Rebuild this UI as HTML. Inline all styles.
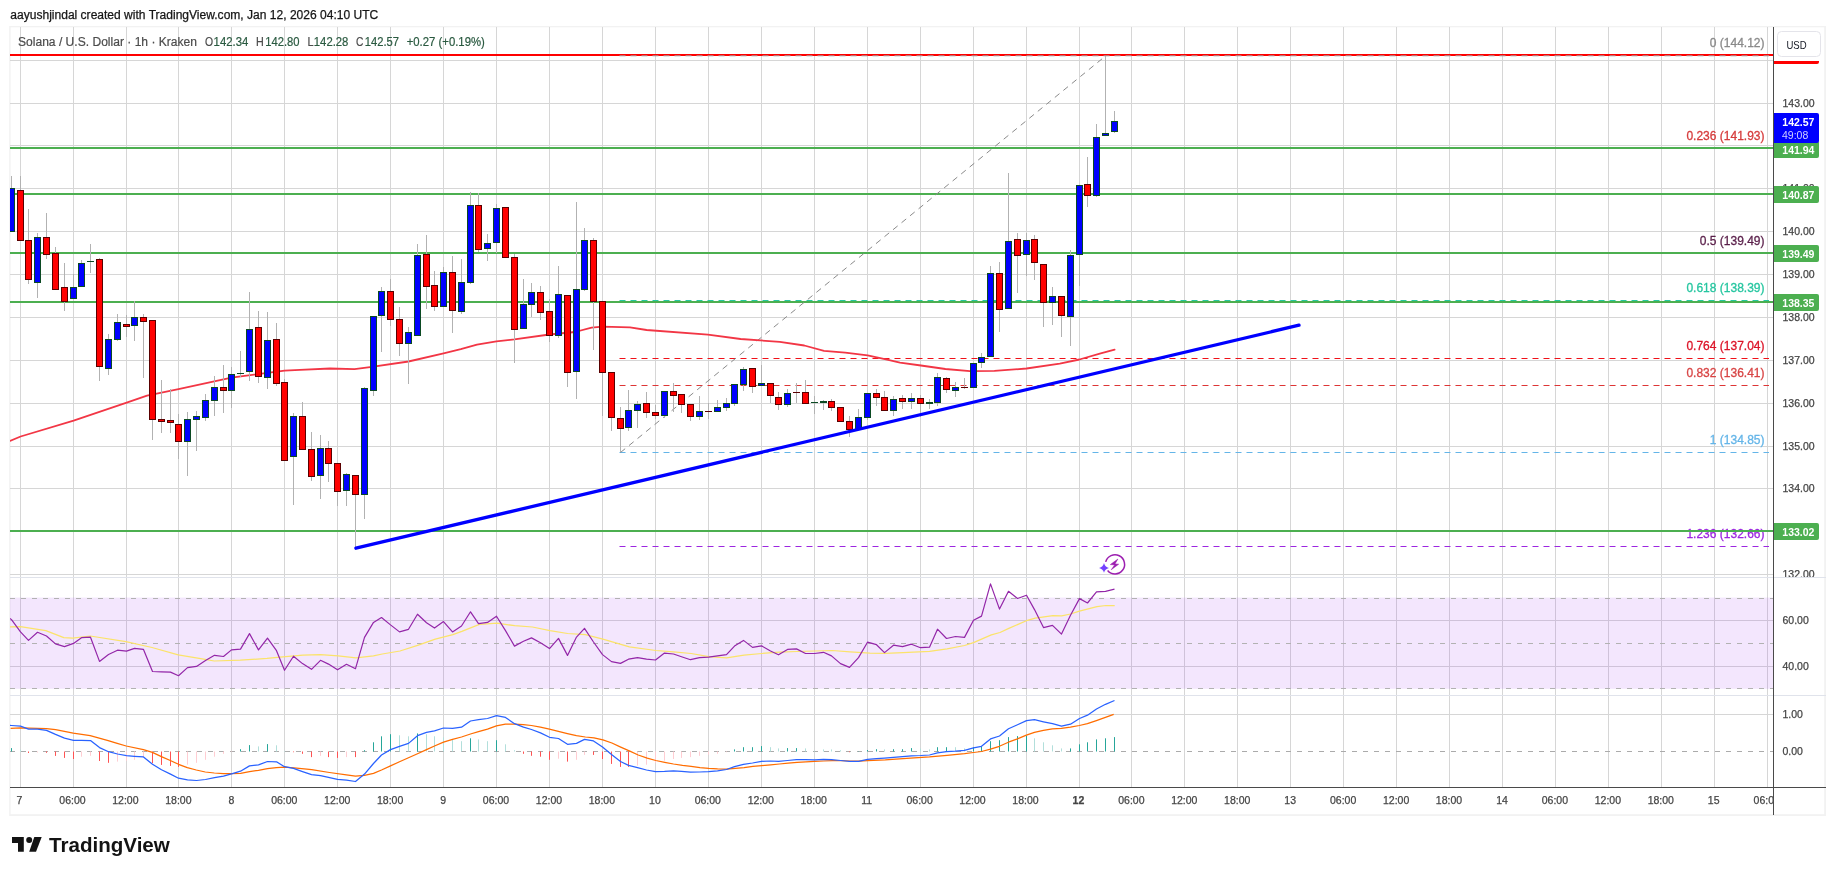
<!DOCTYPE html><html><head><meta charset="utf-8"><title>chart</title><style>html,body{margin:0;padding:0;background:#fff}body{width:1835px;height:875px;overflow:hidden}</style></head><body><svg width="1835" height="875" viewBox="0 0 1835 875" style="display:block;will-change:transform">
<rect width="1835" height="875" fill="#fff"/>
<rect x="9.2" y="26" width="1816.8" height="790" fill="#f2f2f2"/>
<rect x="10.6" y="27.3" width="1813.6" height="786.9" fill="#fff"/>
<defs><clipPath id="main"><rect x="10" y="27" width="1763" height="550"/></clipPath><clipPath id="rsi"><rect x="10" y="578" width="1763" height="117"/></clipPath><clipPath id="macd"><rect x="10" y="696" width="1763" height="91"/></clipPath></defs>
<g shape-rendering="crispEdges" fill="#d6d6d6"><rect x="20" y="27" width="1" height="760"/><rect x="73" y="27" width="1" height="760"/><rect x="126" y="27" width="1" height="760"/><rect x="178" y="27" width="1" height="760"/><rect x="231" y="27" width="1" height="760"/><rect x="284" y="27" width="1" height="760"/><rect x="337" y="27" width="1" height="760"/><rect x="390" y="27" width="1" height="760"/><rect x="443" y="27" width="1" height="760"/><rect x="496" y="27" width="1" height="760"/><rect x="549" y="27" width="1" height="760"/><rect x="602" y="27" width="1" height="760"/><rect x="655" y="27" width="1" height="760"/><rect x="708" y="27" width="1" height="760"/><rect x="761" y="27" width="1" height="760"/><rect x="814" y="27" width="1" height="760"/><rect x="867" y="27" width="1" height="760"/><rect x="920" y="27" width="1" height="760"/><rect x="973" y="27" width="1" height="760"/><rect x="1026" y="27" width="1" height="760"/><rect x="1079" y="27" width="1" height="760"/><rect x="1131" y="27" width="1" height="760"/><rect x="1184" y="27" width="1" height="760"/><rect x="1237" y="27" width="1" height="760"/><rect x="1290" y="27" width="1" height="760"/><rect x="1343" y="27" width="1" height="760"/><rect x="1396" y="27" width="1" height="760"/><rect x="1449" y="27" width="1" height="760"/><rect x="1502" y="27" width="1" height="760"/><rect x="1555" y="27" width="1" height="760"/><rect x="1608" y="27" width="1" height="760"/><rect x="1661" y="27" width="1" height="760"/><rect x="1714" y="27" width="1" height="760"/><rect x="1767" y="27" width="1" height="760"/><rect x="10" y="60" width="1763" height="1"/><rect x="10" y="103" width="1763" height="1"/><rect x="10" y="145" width="1763" height="1"/><rect x="10" y="188" width="1763" height="1"/><rect x="10" y="231" width="1763" height="1"/><rect x="10" y="274" width="1763" height="1"/><rect x="10" y="317" width="1763" height="1"/><rect x="10" y="360" width="1763" height="1"/><rect x="10" y="403" width="1763" height="1"/><rect x="10" y="446" width="1763" height="1"/><rect x="10" y="488" width="1763" height="1"/><rect x="10" y="531" width="1763" height="1"/><rect x="10" y="574" width="1763" height="1"/><rect x="10" y="620" width="1763" height="1"/><rect x="10" y="666" width="1763" height="1"/><rect x="10" y="714" width="1763" height="1"/></g>
<rect x="10" y="597.6" width="1763" height="91.2" fill="#9a35ee" fill-opacity="0.12"/>
<g shape-rendering="crispEdges" fill="#e0e3eb"><rect x="10" y="577" width="1816" height="1"/><rect x="10" y="695" width="1816" height="1"/></g>
<g>
<line x1="10" y1="598.5" x2="1773" y2="598.5" stroke="#b2b2b2" stroke-width="1" stroke-dasharray="5 6" stroke-dashoffset="0"/>
<line x1="10" y1="643.5" x2="1773" y2="643.5" stroke="#b2b2b2" stroke-width="1" stroke-dasharray="5 6" stroke-dashoffset="0"/>
<line x1="10" y1="688.5" x2="1773" y2="688.5" stroke="#b2b2b2" stroke-width="1" stroke-dasharray="5 6" stroke-dashoffset="0"/>
<line x1="10" y1="751.5" x2="1773" y2="751.5" stroke="#ababab" stroke-width="1" stroke-dasharray="5 6" stroke-dashoffset="0"/>
</g>
<g clip-path="url(#main)">
<g>
<line x1="619.5" y1="546.5" x2="1769" y2="546.5" stroke="#9c27e0" stroke-width="1" stroke-dasharray="6 5" stroke-dashoffset="0"/>
<line x1="619.5" y1="452.5" x2="1769" y2="452.5" stroke="#64b5e8" stroke-width="1" stroke-dasharray="6 5" stroke-dashoffset="0"/>
<line x1="619.5" y1="385.5" x2="1769" y2="385.5" stroke="#dd3535" stroke-width="1" stroke-dasharray="6 5" stroke-dashoffset="0"/>
<line x1="619.5" y1="358.5" x2="1769" y2="358.5" stroke="#f01018" stroke-width="1" stroke-dasharray="6 5" stroke-dashoffset="0"/>
</g>
<text x="1764.5" y="47.3" font-size="12" fill="#8a8a8a" text-anchor="end" font-weight="normal" font-family="Liberation Sans, sans-serif" stroke="#8a8a8a" stroke-width="0.3">0 (144.12)</text>
<text x="1764.5" y="140" font-size="12" fill="#d63c3c" text-anchor="end" font-weight="normal" font-family="Liberation Sans, sans-serif" stroke="#d63c3c" stroke-width="0.3">0.236 (141.93)</text>
<text x="1764.5" y="245.3" font-size="12" fill="#5a1f4a" text-anchor="end" font-weight="normal" font-family="Liberation Sans, sans-serif" stroke="#5a1f4a" stroke-width="0.3">0.5 (139.49)</text>
<text x="1764.5" y="292.3" font-size="12" fill="#26c6a0" text-anchor="end" font-weight="normal" font-family="Liberation Sans, sans-serif" stroke="#26c6a0" stroke-width="0.3">0.618 (138.39)</text>
<text x="1764.5" y="350.3" font-size="12" fill="#dc1428" text-anchor="end" font-weight="normal" font-family="Liberation Sans, sans-serif" stroke="#dc1428" stroke-width="0.3">0.764 (137.04)</text>
<text x="1764.5" y="377.3" font-size="12" fill="#d84545" text-anchor="end" font-weight="normal" font-family="Liberation Sans, sans-serif" stroke="#d84545" stroke-width="0.3">0.832 (136.41)</text>
<text x="1764.5" y="444.3" font-size="12" fill="#64b5e8" text-anchor="end" font-weight="normal" font-family="Liberation Sans, sans-serif" stroke="#64b5e8" stroke-width="0.3">1 (134.85)</text>
<text x="1764.5" y="538.3" font-size="12" fill="#9c27e0" text-anchor="end" font-weight="normal" font-family="Liberation Sans, sans-serif" stroke="#9c27e0" stroke-width="0.3">1.236 (132.66)</text>
<g shape-rendering="crispEdges" fill="#4caf50">
<rect x="10" y="147" width="1763" height="2"/>
<rect x="10" y="193" width="1763" height="2"/>
<rect x="10" y="252" width="1763" height="2"/>
<rect x="10" y="301" width="1763" height="2"/>
<rect x="10" y="530" width="1763" height="2"/>
</g>
<line x1="619.5" y1="300.5" x2="1769" y2="300.5" stroke="#26c6a0" stroke-width="1" stroke-dasharray="6 5" stroke-dashoffset="0"/>
<rect x="10" y="54" width="1763" height="2" fill="#ff0000" shape-rendering="crispEdges"/>
<line x1="619.5" y1="55.8" x2="1769" y2="55.8" stroke="#a8a0a0" stroke-width="1" stroke-dasharray="6 5" stroke-dashoffset="0"/>
<line x1="620.5" y1="452.5" x2="1105.5" y2="56" stroke="#8a8a8a" stroke-width="1" stroke-dasharray="6 5"/>
<polyline points="10,440.9 20.6,436.5 73.6,420.6 126.7,402.7 147,395.6 178.5,389.1 231.5,377.7 284.6,370.6 300,369.8 330,368.5 354.5,369.2 370,367.2 408.5,361.5 443.6,353.3 460.8,349.2 477,344.7 496.4,341.4 514.4,339.4 549.4,334.5 575,332 591.6,327.7 602.5,326.7 630,327.3 646.6,330 707.9,334.6 740.6,339 779.8,341.8 804.3,345.5 824,350.8 845.2,352.6 867.6,355.3 886,359.4 900,362.7 920.9,365.5 945.4,369 969.9,371.2 994.4,370.9 1026.5,368.5 1059.8,363.6 1079.4,359.5 1100.7,353.4 1114.6,349.7" fill="none" stroke="#f23645" stroke-width="1.8" stroke-linejoin="round" stroke-linecap="round"/>
<g shape-rendering="crispEdges"><g fill="#b2b2b2"><rect x="11" y="176" width="1" height="56"/><rect x="20" y="176" width="1" height="65"/><rect x="28" y="209" width="1" height="75"/><rect x="37" y="233" width="1" height="65"/><rect x="46" y="213" width="1" height="46"/><rect x="55" y="247" width="1" height="43"/><rect x="64" y="263" width="1" height="48"/><rect x="73" y="274" width="1" height="25"/><rect x="81" y="260" width="1" height="27"/><rect x="90" y="244" width="1" height="29"/><rect x="99" y="258" width="1" height="123"/><rect x="108" y="334" width="1" height="41"/><rect x="117" y="314" width="1" height="27"/><rect x="126" y="315" width="1" height="22"/><rect x="134" y="301" width="1" height="40"/><rect x="143" y="314" width="1" height="64"/><rect x="152" y="320" width="1" height="120"/><rect x="161" y="380" width="1" height="53"/><rect x="170" y="389" width="1" height="44"/><rect x="178" y="414" width="1" height="45"/><rect x="187" y="412" width="1" height="64"/><rect x="196" y="411" width="1" height="40"/><rect x="205" y="394" width="1" height="27"/><rect x="214" y="376" width="1" height="40"/><rect x="223" y="365" width="1" height="48"/><rect x="231" y="367" width="1" height="41"/><rect x="240" y="351" width="1" height="26"/><rect x="249" y="292" width="1" height="89"/><rect x="258" y="311" width="1" height="72"/><rect x="267" y="312" width="1" height="77"/><rect x="276" y="323" width="1" height="63"/><rect x="284" y="379" width="1" height="82"/><rect x="293" y="413" width="1" height="92"/><rect x="302" y="402" width="1" height="48"/><rect x="311" y="432" width="1" height="49"/><rect x="320" y="435" width="1" height="64"/><rect x="328" y="441" width="1" height="41"/><rect x="337" y="463" width="1" height="43"/><rect x="346" y="473" width="1" height="33"/><rect x="355" y="475" width="1" height="73"/><rect x="364" y="387" width="1" height="132"/><rect x="373" y="316" width="1" height="80"/><rect x="381" y="287" width="1" height="65"/><rect x="390" y="279" width="1" height="47"/><rect x="399" y="307" width="1" height="49"/><rect x="408" y="327" width="1" height="57"/><rect x="417" y="244" width="1" height="92"/><rect x="426" y="235" width="1" height="74"/><rect x="434" y="271" width="1" height="40"/><rect x="443" y="267" width="1" height="40"/><rect x="452" y="256" width="1" height="77"/><rect x="461" y="259" width="1" height="55"/><rect x="470" y="192" width="1" height="92"/><rect x="478" y="193" width="1" height="59"/><rect x="487" y="234" width="1" height="27"/><rect x="496" y="204" width="1" height="49"/><rect x="505" y="207" width="1" height="51"/><rect x="514" y="254" width="1" height="109"/><rect x="523" y="279" width="1" height="50"/><rect x="531" y="283" width="1" height="34"/><rect x="540" y="286" width="1" height="34"/><rect x="549" y="299" width="1" height="43"/><rect x="558" y="266" width="1" height="72"/><rect x="567" y="295" width="1" height="92"/><rect x="576" y="202" width="1" height="197"/><rect x="584" y="228" width="1" height="63"/><rect x="593" y="238" width="1" height="112"/><rect x="602" y="301" width="1" height="115"/><rect x="611" y="372" width="1" height="59"/><rect x="620" y="407" width="1" height="45"/><rect x="628" y="390" width="1" height="41"/><rect x="637" y="401" width="1" height="27"/><rect x="646" y="392" width="1" height="26"/><rect x="655" y="405" width="1" height="14"/><rect x="664" y="391" width="1" height="27"/><rect x="673" y="383" width="1" height="29"/><rect x="681" y="394" width="1" height="19"/><rect x="690" y="404" width="1" height="17"/><rect x="699" y="396" width="1" height="24"/><rect x="708" y="403" width="1" height="16"/><rect x="717" y="400" width="1" height="12"/><rect x="726" y="398" width="1" height="13"/><rect x="734" y="384" width="1" height="22"/><rect x="743" y="367" width="1" height="24"/><rect x="752" y="368" width="1" height="25"/><rect x="761" y="365" width="1" height="21"/><rect x="770" y="383" width="1" height="20"/><rect x="778" y="392" width="1" height="18"/><rect x="787" y="389" width="1" height="18"/><rect x="796" y="383" width="1" height="20"/><rect x="805" y="380" width="1" height="24"/><rect x="814" y="396" width="1" height="18"/><rect x="823" y="400" width="1" height="10"/><rect x="831" y="399" width="1" height="12"/><rect x="840" y="407" width="1" height="15"/><rect x="849" y="416" width="1" height="21"/><rect x="858" y="409" width="1" height="21"/><rect x="867" y="393" width="1" height="27"/><rect x="876" y="389" width="1" height="17"/><rect x="884" y="391" width="1" height="20"/><rect x="893" y="396" width="1" height="20"/><rect x="902" y="395" width="1" height="14"/><rect x="911" y="393" width="1" height="16"/><rect x="920" y="395" width="1" height="22"/><rect x="929" y="399" width="1" height="10"/><rect x="937" y="373" width="1" height="33"/><rect x="946" y="377" width="1" height="16"/><rect x="955" y="382" width="1" height="15"/><rect x="964" y="378" width="1" height="11"/><rect x="973" y="363" width="1" height="25"/><rect x="981" y="353" width="1" height="15"/><rect x="990" y="266" width="1" height="91"/><rect x="999" y="262" width="1" height="70"/><rect x="1008" y="173" width="1" height="136"/><rect x="1017" y="233" width="1" height="60"/><rect x="1026" y="233" width="1" height="43"/><rect x="1034" y="235" width="1" height="45"/><rect x="1043" y="264" width="1" height="63"/><rect x="1052" y="287" width="1" height="38"/><rect x="1061" y="296" width="1" height="41"/><rect x="1070" y="250" width="1" height="96"/><rect x="1079" y="185" width="1" height="101"/><rect x="1087" y="157" width="1" height="50"/><rect x="1096" y="124" width="1" height="73"/><rect x="1105" y="56" width="1" height="80"/><rect x="1114" y="111" width="1" height="22"/></g><rect x="8" y="188" width="7" height="44" fill="#0b4a23"/><rect x="9" y="189" width="5" height="42" fill="#0000ff"/><rect x="17" y="190" width="7" height="51" fill="#5a0000"/><rect x="18" y="191" width="5" height="49" fill="#ff0000"/><rect x="25" y="240" width="7" height="40" fill="#5a0000"/><rect x="26" y="241" width="5" height="38" fill="#ff0000"/><rect x="34" y="237" width="7" height="46" fill="#0b4a23"/><rect x="35" y="238" width="5" height="44" fill="#0000ff"/><rect x="43" y="237" width="7" height="18" fill="#5a0000"/><rect x="44" y="238" width="5" height="16" fill="#ff0000"/><rect x="52" y="253" width="7" height="37" fill="#5a0000"/><rect x="53" y="254" width="5" height="35" fill="#ff0000"/><rect x="61" y="287" width="7" height="15" fill="#5a0000"/><rect x="62" y="288" width="5" height="13" fill="#ff0000"/><rect x="70" y="287" width="7" height="12" fill="#0b4a23"/><rect x="71" y="288" width="5" height="10" fill="#0000ff"/><rect x="78" y="263" width="7" height="24" fill="#0b4a23"/><rect x="79" y="264" width="5" height="22" fill="#0000ff"/><rect x="87" y="261" width="7" height="1" fill="#0b4a23"/><rect x="96" y="259" width="7" height="108" fill="#5a0000"/><rect x="97" y="260" width="5" height="106" fill="#ff0000"/><rect x="105" y="339" width="7" height="30" fill="#0b4a23"/><rect x="106" y="340" width="5" height="28" fill="#0000ff"/><rect x="114" y="322" width="7" height="18" fill="#0b4a23"/><rect x="115" y="323" width="5" height="16" fill="#0000ff"/><rect x="123" y="324" width="7" height="3" fill="#5a0000"/><rect x="124" y="325" width="5" height="1" fill="#ff0000"/><rect x="131" y="317" width="7" height="9" fill="#0b4a23"/><rect x="132" y="318" width="5" height="7" fill="#0000ff"/><rect x="140" y="317" width="7" height="5" fill="#5a0000"/><rect x="141" y="318" width="5" height="3" fill="#ff0000"/><rect x="149" y="320" width="7" height="100" fill="#5a0000"/><rect x="150" y="321" width="5" height="98" fill="#ff0000"/><rect x="158" y="419" width="7" height="3" fill="#5a0000"/><rect x="159" y="420" width="5" height="1" fill="#ff0000"/><rect x="167" y="420" width="7" height="3" fill="#5a0000"/><rect x="168" y="421" width="5" height="1" fill="#ff0000"/><rect x="175" y="424" width="7" height="18" fill="#5a0000"/><rect x="176" y="425" width="5" height="16" fill="#ff0000"/><rect x="184" y="419" width="7" height="23" fill="#0b4a23"/><rect x="185" y="420" width="5" height="21" fill="#0000ff"/><rect x="193" y="416" width="7" height="4" fill="#0b4a23"/><rect x="194" y="417" width="5" height="2" fill="#0000ff"/><rect x="202" y="400" width="7" height="18" fill="#0b4a23"/><rect x="203" y="401" width="5" height="16" fill="#0000ff"/><rect x="211" y="387" width="7" height="14" fill="#0b4a23"/><rect x="212" y="388" width="5" height="12" fill="#0000ff"/><rect x="220" y="387" width="7" height="4" fill="#5a0000"/><rect x="221" y="388" width="5" height="2" fill="#ff0000"/><rect x="228" y="374" width="7" height="17" fill="#0b4a23"/><rect x="229" y="375" width="5" height="15" fill="#0000ff"/><rect x="237" y="373" width="7" height="1" fill="#0b4a23"/><rect x="246" y="329" width="7" height="43" fill="#0b4a23"/><rect x="247" y="330" width="5" height="41" fill="#0000ff"/><rect x="255" y="327" width="7" height="50" fill="#5a0000"/><rect x="256" y="328" width="5" height="48" fill="#ff0000"/><rect x="264" y="340" width="7" height="38" fill="#0b4a23"/><rect x="265" y="341" width="5" height="36" fill="#0000ff"/><rect x="273" y="339" width="7" height="45" fill="#5a0000"/><rect x="274" y="340" width="5" height="43" fill="#ff0000"/><rect x="281" y="382" width="7" height="79" fill="#5a0000"/><rect x="282" y="383" width="5" height="77" fill="#ff0000"/><rect x="290" y="416" width="7" height="41" fill="#0b4a23"/><rect x="291" y="417" width="5" height="39" fill="#0000ff"/><rect x="299" y="416" width="7" height="34" fill="#5a0000"/><rect x="300" y="417" width="5" height="32" fill="#ff0000"/><rect x="308" y="449" width="7" height="28" fill="#5a0000"/><rect x="309" y="450" width="5" height="26" fill="#ff0000"/><rect x="317" y="448" width="7" height="28" fill="#0b4a23"/><rect x="318" y="449" width="5" height="26" fill="#0000ff"/><rect x="325" y="448" width="7" height="16" fill="#5a0000"/><rect x="326" y="449" width="5" height="14" fill="#ff0000"/><rect x="334" y="463" width="7" height="29" fill="#5a0000"/><rect x="335" y="464" width="5" height="27" fill="#ff0000"/><rect x="343" y="474" width="7" height="17" fill="#0b4a23"/><rect x="344" y="475" width="5" height="15" fill="#0000ff"/><rect x="352" y="475" width="7" height="20" fill="#5a0000"/><rect x="353" y="476" width="5" height="18" fill="#ff0000"/><rect x="361" y="388" width="7" height="107" fill="#0b4a23"/><rect x="362" y="389" width="5" height="105" fill="#0000ff"/><rect x="370" y="316" width="7" height="75" fill="#0b4a23"/><rect x="371" y="317" width="5" height="73" fill="#0000ff"/><rect x="378" y="291" width="7" height="25" fill="#0b4a23"/><rect x="379" y="292" width="5" height="23" fill="#0000ff"/><rect x="387" y="291" width="7" height="29" fill="#5a0000"/><rect x="388" y="292" width="5" height="27" fill="#ff0000"/><rect x="396" y="319" width="7" height="25" fill="#5a0000"/><rect x="397" y="320" width="5" height="23" fill="#ff0000"/><rect x="405" y="332" width="7" height="12" fill="#0b4a23"/><rect x="406" y="333" width="5" height="10" fill="#0000ff"/><rect x="414" y="255" width="7" height="81" fill="#0b4a23"/><rect x="415" y="256" width="5" height="79" fill="#0000ff"/><rect x="423" y="254" width="7" height="33" fill="#5a0000"/><rect x="424" y="255" width="5" height="31" fill="#ff0000"/><rect x="431" y="285" width="7" height="22" fill="#5a0000"/><rect x="432" y="286" width="5" height="20" fill="#ff0000"/><rect x="440" y="272" width="7" height="35" fill="#0b4a23"/><rect x="441" y="273" width="5" height="33" fill="#0000ff"/><rect x="449" y="272" width="7" height="39" fill="#5a0000"/><rect x="450" y="273" width="5" height="37" fill="#ff0000"/><rect x="458" y="282" width="7" height="30" fill="#0b4a23"/><rect x="459" y="283" width="5" height="28" fill="#0000ff"/><rect x="467" y="205" width="7" height="78" fill="#0b4a23"/><rect x="468" y="206" width="5" height="76" fill="#0000ff"/><rect x="475" y="205" width="7" height="45" fill="#5a0000"/><rect x="476" y="206" width="5" height="43" fill="#ff0000"/><rect x="484" y="243" width="7" height="6" fill="#0b4a23"/><rect x="485" y="244" width="5" height="4" fill="#0000ff"/><rect x="493" y="208" width="7" height="35" fill="#0b4a23"/><rect x="494" y="209" width="5" height="33" fill="#0000ff"/><rect x="502" y="207" width="7" height="51" fill="#5a0000"/><rect x="503" y="208" width="5" height="49" fill="#ff0000"/><rect x="511" y="257" width="7" height="73" fill="#5a0000"/><rect x="512" y="258" width="5" height="71" fill="#ff0000"/><rect x="520" y="304" width="7" height="25" fill="#0b4a23"/><rect x="521" y="305" width="5" height="23" fill="#0000ff"/><rect x="528" y="292" width="7" height="13" fill="#0b4a23"/><rect x="529" y="293" width="5" height="11" fill="#0000ff"/><rect x="537" y="292" width="7" height="21" fill="#5a0000"/><rect x="538" y="293" width="5" height="19" fill="#ff0000"/><rect x="546" y="311" width="7" height="25" fill="#5a0000"/><rect x="547" y="312" width="5" height="23" fill="#ff0000"/><rect x="555" y="294" width="7" height="42" fill="#0b4a23"/><rect x="556" y="295" width="5" height="40" fill="#0000ff"/><rect x="564" y="295" width="7" height="78" fill="#5a0000"/><rect x="565" y="296" width="5" height="76" fill="#ff0000"/><rect x="573" y="289" width="7" height="83" fill="#0b4a23"/><rect x="574" y="290" width="5" height="81" fill="#0000ff"/><rect x="581" y="240" width="7" height="50" fill="#0b4a23"/><rect x="582" y="241" width="5" height="48" fill="#0000ff"/><rect x="590" y="240" width="7" height="62" fill="#5a0000"/><rect x="591" y="241" width="5" height="60" fill="#ff0000"/><rect x="599" y="301" width="7" height="72" fill="#5a0000"/><rect x="600" y="302" width="5" height="70" fill="#ff0000"/><rect x="608" y="372" width="7" height="46" fill="#5a0000"/><rect x="609" y="373" width="5" height="44" fill="#ff0000"/><rect x="617" y="418" width="7" height="11" fill="#5a0000"/><rect x="618" y="419" width="5" height="9" fill="#ff0000"/><rect x="625" y="410" width="7" height="18" fill="#0b4a23"/><rect x="626" y="411" width="5" height="16" fill="#0000ff"/><rect x="634" y="404" width="7" height="7" fill="#0b4a23"/><rect x="635" y="405" width="5" height="5" fill="#0000ff"/><rect x="643" y="403" width="7" height="10" fill="#5a0000"/><rect x="644" y="404" width="5" height="8" fill="#ff0000"/><rect x="652" y="412" width="7" height="4" fill="#5a0000"/><rect x="653" y="413" width="5" height="2" fill="#ff0000"/><rect x="661" y="391" width="7" height="25" fill="#0b4a23"/><rect x="662" y="392" width="5" height="23" fill="#0000ff"/><rect x="670" y="391" width="7" height="5" fill="#5a0000"/><rect x="671" y="392" width="5" height="3" fill="#ff0000"/><rect x="678" y="394" width="7" height="11" fill="#5a0000"/><rect x="679" y="395" width="5" height="9" fill="#ff0000"/><rect x="687" y="404" width="7" height="13" fill="#5a0000"/><rect x="688" y="405" width="5" height="11" fill="#ff0000"/><rect x="696" y="411" width="7" height="6" fill="#0b4a23"/><rect x="697" y="412" width="5" height="4" fill="#0000ff"/><rect x="705" y="411" width="7" height="1" fill="#5a0000"/><rect x="714" y="407" width="7" height="5" fill="#0b4a23"/><rect x="715" y="408" width="5" height="3" fill="#0000ff"/><rect x="723" y="403" width="7" height="5" fill="#0b4a23"/><rect x="724" y="404" width="5" height="3" fill="#0000ff"/><rect x="731" y="384" width="7" height="20" fill="#0b4a23"/><rect x="732" y="385" width="5" height="18" fill="#0000ff"/><rect x="740" y="369" width="7" height="16" fill="#0b4a23"/><rect x="741" y="370" width="5" height="14" fill="#0000ff"/><rect x="749" y="368" width="7" height="19" fill="#5a0000"/><rect x="750" y="369" width="5" height="17" fill="#ff0000"/><rect x="758" y="383" width="7" height="3" fill="#0b4a23"/><rect x="759" y="384" width="5" height="1" fill="#0000ff"/><rect x="767" y="383" width="7" height="13" fill="#5a0000"/><rect x="768" y="384" width="5" height="11" fill="#ff0000"/><rect x="775" y="397" width="7" height="8" fill="#5a0000"/><rect x="776" y="398" width="5" height="6" fill="#ff0000"/><rect x="784" y="393" width="7" height="12" fill="#0b4a23"/><rect x="785" y="394" width="5" height="10" fill="#0000ff"/><rect x="793" y="392" width="7" height="1" fill="#5a0000"/><rect x="802" y="392" width="7" height="12" fill="#5a0000"/><rect x="803" y="393" width="5" height="10" fill="#ff0000"/><rect x="811" y="402" width="7" height="1" fill="#0b4a23"/><rect x="820" y="401" width="7" height="2" fill="#0b4a23"/><rect x="828" y="401" width="7" height="7" fill="#5a0000"/><rect x="829" y="402" width="5" height="5" fill="#ff0000"/><rect x="837" y="407" width="7" height="15" fill="#5a0000"/><rect x="838" y="408" width="5" height="13" fill="#ff0000"/><rect x="846" y="421" width="7" height="9" fill="#5a0000"/><rect x="847" y="422" width="5" height="7" fill="#ff0000"/><rect x="855" y="417" width="7" height="13" fill="#0b4a23"/><rect x="856" y="418" width="5" height="11" fill="#0000ff"/><rect x="864" y="393" width="7" height="25" fill="#0b4a23"/><rect x="865" y="394" width="5" height="23" fill="#0000ff"/><rect x="873" y="393" width="7" height="5" fill="#5a0000"/><rect x="874" y="394" width="5" height="3" fill="#ff0000"/><rect x="881" y="397" width="7" height="14" fill="#5a0000"/><rect x="882" y="398" width="5" height="12" fill="#ff0000"/><rect x="890" y="399" width="7" height="12" fill="#0b4a23"/><rect x="891" y="400" width="5" height="10" fill="#0000ff"/><rect x="899" y="398" width="7" height="4" fill="#5a0000"/><rect x="900" y="399" width="5" height="2" fill="#ff0000"/><rect x="908" y="398" width="7" height="4" fill="#0b4a23"/><rect x="909" y="399" width="5" height="2" fill="#0000ff"/><rect x="917" y="398" width="7" height="6" fill="#5a0000"/><rect x="918" y="399" width="5" height="4" fill="#ff0000"/><rect x="926" y="402" width="7" height="2" fill="#0b4a23"/><rect x="934" y="377" width="7" height="26" fill="#0b4a23"/><rect x="935" y="378" width="5" height="24" fill="#0000ff"/><rect x="943" y="378" width="7" height="12" fill="#5a0000"/><rect x="944" y="379" width="5" height="10" fill="#ff0000"/><rect x="952" y="387" width="7" height="4" fill="#0b4a23"/><rect x="953" y="388" width="5" height="2" fill="#0000ff"/><rect x="961" y="387" width="7" height="1" fill="#5a0000"/><rect x="970" y="363" width="7" height="25" fill="#0b4a23"/><rect x="971" y="364" width="5" height="23" fill="#0000ff"/><rect x="978" y="357" width="7" height="6" fill="#0b4a23"/><rect x="979" y="358" width="5" height="4" fill="#0000ff"/><rect x="987" y="273" width="7" height="84" fill="#0b4a23"/><rect x="988" y="274" width="5" height="82" fill="#0000ff"/><rect x="996" y="273" width="7" height="37" fill="#5a0000"/><rect x="997" y="274" width="5" height="35" fill="#ff0000"/><rect x="1005" y="241" width="7" height="68" fill="#0b4a23"/><rect x="1006" y="242" width="5" height="66" fill="#0000ff"/><rect x="1014" y="239" width="7" height="17" fill="#5a0000"/><rect x="1015" y="240" width="5" height="15" fill="#ff0000"/><rect x="1023" y="240" width="7" height="15" fill="#0b4a23"/><rect x="1024" y="241" width="5" height="13" fill="#0000ff"/><rect x="1031" y="239" width="7" height="24" fill="#5a0000"/><rect x="1032" y="240" width="5" height="22" fill="#ff0000"/><rect x="1040" y="264" width="7" height="39" fill="#5a0000"/><rect x="1041" y="265" width="5" height="37" fill="#ff0000"/><rect x="1049" y="296" width="7" height="7" fill="#0b4a23"/><rect x="1050" y="297" width="5" height="5" fill="#0000ff"/><rect x="1058" y="296" width="7" height="20" fill="#5a0000"/><rect x="1059" y="297" width="5" height="18" fill="#ff0000"/><rect x="1067" y="255" width="7" height="62" fill="#0b4a23"/><rect x="1068" y="256" width="5" height="60" fill="#0000ff"/><rect x="1076" y="185" width="7" height="70" fill="#0b4a23"/><rect x="1077" y="186" width="5" height="68" fill="#0000ff"/><rect x="1084" y="184" width="7" height="12" fill="#5a0000"/><rect x="1085" y="185" width="5" height="10" fill="#ff0000"/><rect x="1093" y="137" width="7" height="59" fill="#0b4a23"/><rect x="1094" y="138" width="5" height="57" fill="#0000ff"/><rect x="1102" y="133" width="7" height="3" fill="#0b4a23"/><rect x="1103" y="134" width="5" height="1" fill="#0000ff"/><rect x="1111" y="121" width="7" height="11" fill="#0b4a23"/><rect x="1112" y="122" width="5" height="9" fill="#0000ff"/></g>
<line x1="355.9" y1="548.2" x2="1299" y2="325.2" stroke="#0000ff" stroke-width="3.3" stroke-linecap="round"/>
</g>
<g clip-path="url(#rsi)">
<polyline points="10,627 20.4,626.7 45.8,630.6 63.8,637.7 72.7,638.1 90.2,636 125.9,641.7 152,647.5 178.2,654.8 205.2,659.4 214.2,661 240.3,660.2 267,658.4 280,657.1 302.9,655.1 320.5,654.6 338.2,655.9 355.9,657.9 373.5,655.9 382.3,654 400,651 417.6,645.3 435.3,639.2 452.9,634.7 461.8,631.4 479.4,624.4 497.1,623.2 514.7,625.7 532.4,627 550,630.6 567.6,633.5 585.3,634.7 602.9,639.1 629.4,646.9 655.9,650.5 673.5,651.8 691.2,653.5 708.8,656.7 726.5,657.9 744.1,655.1 761.8,653.5 779.4,652.2 797.1,651.5 814.7,651 832.4,650.5 850,651.8 870,653.1 885.3,653.4 903,652.6 929.5,651.3 947.1,648.8 964.6,645.5 973.5,642.6 991.3,634.9 1000,632.5 1008.8,628.4 1026.4,620.7 1035.3,618.2 1052.9,615.6 1061.7,615.8 1070.6,614 1079.4,611.2 1097,606.6 1105.9,605.5 1114.7,605.6" fill="none" stroke="#fbe36a" stroke-width="1.25" stroke-linejoin="round"/>
<polyline points="10,618.4 11.5,619.6 20.5,631.9 28.5,640.4 37.5,632.3 46.5,636 55.5,643.9 64.5,646.6 73.5,643.4 81.5,637.7 90.5,637.2 99.5,661.4 108.5,654.5 117.5,650.2 126.5,651.1 134.5,648.4 143.5,649.4 152.5,671.5 161.5,671.8 170.5,672.1 178.5,675.7 187.5,667.6 196.5,666.4 205.5,660.5 214.5,655.3 223.5,656.5 231.5,649.9 240.5,649.1 249.5,633.6 258.5,649.9 267.5,638.1 276.5,650.7 284.5,670.3 293.5,656.2 302.5,663.6 311.5,669.3 320.5,660.3 328.5,664.1 337.5,669.8 346.5,664.3 355.5,668.7 364.5,637.4 373.5,622.4 381.5,617.5 390.5,624.9 399.5,631.9 408.5,629.3 417.5,614.2 426.5,622.7 434.5,628.1 443.5,621.6 452.5,631.9 461.5,626 470.5,611.8 478.5,623.6 487.5,622.4 496.5,616.2 505.5,630.6 514.5,646.1 523.5,641.2 531.5,637.9 540.5,642.8 549.5,648.6 558.5,638.4 567.5,655.4 576.5,637.1 584.5,628.3 593.5,642 602.5,654.6 611.5,661.6 620.5,663.4 628.5,659.2 637.5,657.6 646.5,659.2 655.5,660 664.5,653.1 673.5,654 681.5,656.7 690.5,659.7 699.5,657.7 708.5,657.2 717.5,655.9 726.5,654.6 734.5,646.1 743.5,640.4 752.5,647.4 761.5,645.8 770.5,651 778.5,654.8 787.5,649.4 796.5,648.9 805.5,653.5 814.5,653.5 823.5,652.3 831.5,655.9 840.5,663.6 849.5,667.4 858.5,657.6 867.5,642.2 876.5,644.7 884.5,652.6 893.5,645.2 902.5,646.7 911.5,644.2 920.5,647.7 929.5,647.2 937.5,629.2 946.5,638.5 955.5,636.5 964.5,637.4 973.5,620.2 981.5,616.1 990.5,583.9 999.5,609.1 1008.5,591.3 1017.5,598.5 1026.5,595.2 1034.5,609.6 1043.5,627.6 1052.5,625.4 1061.5,634.1 1070.5,615.3 1079.5,598.6 1087.5,603 1096.5,591.9 1105.5,591.3 1114.5,589.1" fill="none" stroke="#9326a8" stroke-width="1.2" stroke-linejoin="round"/>
</g>
<g clip-path="url(#macd)">
<g><rect x="11" y="748.1" width="1" height="3.4" fill="#26a69a"/><rect x="20" y="749.7" width="1" height="1.8" fill="#b2dfdb"/><rect x="28" y="751.5" width="1" height="1.5" fill="#ff5252"/><rect x="37" y="751.5" width="1" height="1.0" fill="#ffcdd2"/><rect x="46" y="751.5" width="1" height="1.3" fill="#ff5252"/><rect x="55" y="751.5" width="1" height="4.4" fill="#ff5252"/><rect x="64" y="751.5" width="1" height="6.4" fill="#ff5252"/><rect x="73" y="751.5" width="1" height="7.5" fill="#ff5252"/><rect x="81" y="751.5" width="1" height="5.2" fill="#ffcdd2"/><rect x="90" y="751.5" width="1" height="4.3" fill="#ffcdd2"/><rect x="99" y="751.5" width="1" height="9.5" fill="#ff5252"/><rect x="108" y="751.5" width="1" height="11.3" fill="#ff5252"/><rect x="117" y="751.5" width="1" height="10.1" fill="#ffcdd2"/><rect x="126" y="751.5" width="1" height="9.2" fill="#ffcdd2"/><rect x="134" y="751.5" width="1" height="8.3" fill="#ffcdd2"/><rect x="143" y="751.5" width="1" height="5.6" fill="#ffcdd2"/><rect x="152" y="751.5" width="1" height="11.6" fill="#ff5252"/><rect x="161" y="751.5" width="1" height="13.4" fill="#ff5252"/><rect x="170" y="751.5" width="1" height="14.4" fill="#ff5252"/><rect x="178" y="751.5" width="1" height="15.4" fill="#ff5252"/><rect x="187" y="751.5" width="1" height="13.2" fill="#ffcdd2"/><rect x="196" y="751.5" width="1" height="11.3" fill="#ffcdd2"/><rect x="205" y="751.5" width="1" height="8.3" fill="#ffcdd2"/><rect x="214" y="751.5" width="1" height="5.2" fill="#ffcdd2"/><rect x="223" y="751.5" width="1" height="2.3" fill="#ffcdd2"/><rect x="231" y="751.5" width="1" height="0.5" fill="#ffcdd2"/><rect x="240" y="749.2" width="1" height="2.3" fill="#26a69a"/><rect x="249" y="745.1" width="1" height="6.4" fill="#26a69a"/><rect x="258" y="746.4" width="1" height="5.1" fill="#b2dfdb"/><rect x="267" y="744.1" width="1" height="7.4" fill="#26a69a"/><rect x="276" y="745.3" width="1" height="6.2" fill="#b2dfdb"/><rect x="284" y="751.0" width="1" height="0.5" fill="#b2dfdb"/><rect x="293" y="751.5" width="1" height="0.7" fill="#ff5252"/><rect x="302" y="751.5" width="1" height="2.3" fill="#ff5252"/><rect x="311" y="751.5" width="1" height="5.6" fill="#ff5252"/><rect x="320" y="751.5" width="1" height="4.3" fill="#ffcdd2"/><rect x="328" y="751.5" width="1" height="5.6" fill="#ff5252"/><rect x="337" y="751.5" width="1" height="6.4" fill="#ff5252"/><rect x="346" y="751.5" width="1" height="5.6" fill="#ffcdd2"/><rect x="355" y="751.5" width="1" height="5.6" fill="#ff5252"/><rect x="364" y="750.2" width="1" height="1.3" fill="#26a69a"/><rect x="373" y="742.3" width="1" height="9.2" fill="#26a69a"/><rect x="381" y="736.3" width="1" height="15.2" fill="#26a69a"/><rect x="390" y="734.2" width="1" height="17.3" fill="#26a69a"/><rect x="399" y="735.3" width="1" height="16.2" fill="#b2dfdb"/><rect x="408" y="736.3" width="1" height="15.2" fill="#b2dfdb"/><rect x="417" y="733.4" width="1" height="18.1" fill="#26a69a"/><rect x="426" y="734.2" width="1" height="17.3" fill="#b2dfdb"/><rect x="434" y="736.3" width="1" height="15.2" fill="#b2dfdb"/><rect x="443" y="737.4" width="1" height="14.1" fill="#b2dfdb"/><rect x="452" y="739.9" width="1" height="11.6" fill="#b2dfdb"/><rect x="461" y="741.2" width="1" height="10.3" fill="#b2dfdb"/><rect x="470" y="738.3" width="1" height="13.2" fill="#26a69a"/><rect x="478" y="739.4" width="1" height="12.1" fill="#b2dfdb"/><rect x="487" y="741.2" width="1" height="10.3" fill="#b2dfdb"/><rect x="496" y="740.2" width="1" height="11.3" fill="#26a69a"/><rect x="505" y="744.3" width="1" height="7.2" fill="#b2dfdb"/><rect x="514" y="750.2" width="1" height="1.3" fill="#b2dfdb"/><rect x="523" y="751.5" width="1" height="2.3" fill="#ff5252"/><rect x="531" y="751.5" width="1" height="4.3" fill="#ff5252"/><rect x="540" y="751.5" width="1" height="5.2" fill="#ff5252"/><rect x="549" y="751.5" width="1" height="8.3" fill="#ff5252"/><rect x="558" y="751.5" width="1" height="7.2" fill="#ffcdd2"/><rect x="567" y="751.5" width="1" height="10.1" fill="#ff5252"/><rect x="576" y="751.5" width="1" height="8.3" fill="#ffcdd2"/><rect x="584" y="751.5" width="1" height="3.4" fill="#ffcdd2"/><rect x="593" y="751.5" width="1" height="3.4" fill="#ff5252"/><rect x="602" y="751.5" width="1" height="7.5" fill="#ff5252"/><rect x="611" y="751.5" width="1" height="12.4" fill="#ff5252"/><rect x="620" y="751.5" width="1" height="15.4" fill="#ff5252"/><rect x="628" y="751.5" width="1" height="15.4" fill="#ff5252"/><rect x="637" y="751.5" width="1" height="14.1" fill="#ffcdd2"/><rect x="646" y="751.5" width="1" height="13.2" fill="#ffcdd2"/><rect x="655" y="751.5" width="1" height="11.3" fill="#ffcdd2"/><rect x="664" y="751.5" width="1" height="9.2" fill="#ffcdd2"/><rect x="673" y="751.5" width="1" height="7.5" fill="#ffcdd2"/><rect x="681" y="751.5" width="1" height="6.4" fill="#ffcdd2"/><rect x="690" y="751.5" width="1" height="5.6" fill="#ffcdd2"/><rect x="699" y="751.5" width="1" height="4.3" fill="#ffcdd2"/><rect x="708" y="751.5" width="1" height="3.1" fill="#ffcdd2"/><rect x="717" y="751.5" width="1" height="2.3" fill="#ffcdd2"/><rect x="726" y="751.5" width="1" height="0.7" fill="#ffcdd2"/><rect x="734" y="749.4" width="1" height="2.1" fill="#26a69a"/><rect x="743" y="747.2" width="1" height="4.3" fill="#26a69a"/><rect x="752" y="747.2" width="1" height="4.3" fill="#26a69a"/><rect x="761" y="746.1" width="1" height="5.4" fill="#26a69a"/><rect x="770" y="747.2" width="1" height="4.3" fill="#b2dfdb"/><rect x="778" y="748.4" width="1" height="3.1" fill="#b2dfdb"/><rect x="787" y="748.1" width="1" height="3.4" fill="#26a69a"/><rect x="796" y="748.1" width="1" height="3.4" fill="#26a69a"/><rect x="805" y="748.4" width="1" height="3.1" fill="#b2dfdb"/><rect x="814" y="750.7" width="1" height="0.8" fill="#b2dfdb"/><rect x="823" y="749.4" width="1" height="2.1" fill="#b2dfdb"/><rect x="831" y="749.4" width="1" height="2.1" fill="#b2dfdb"/><rect x="840" y="750.2" width="1" height="1.3" fill="#b2dfdb"/><rect x="849" y="751.5" width="1" height="0.7" fill="#ff5252"/><rect x="858" y="751.2" width="1" height="0.3" fill="#26a69a"/><rect x="867" y="750.0" width="1" height="1.5" fill="#26a69a"/><rect x="876" y="749.2" width="1" height="2.3" fill="#26a69a"/><rect x="884" y="749.4" width="1" height="2.1" fill="#b2dfdb"/><rect x="893" y="749.2" width="1" height="2.3" fill="#26a69a"/><rect x="902" y="749.2" width="1" height="2.3" fill="#26a69a"/><rect x="911" y="748.1" width="1" height="3.4" fill="#26a69a"/><rect x="920" y="748.6" width="1" height="2.9" fill="#b2dfdb"/><rect x="929" y="749.4" width="1" height="2.1" fill="#b2dfdb"/><rect x="937" y="747.2" width="1" height="4.3" fill="#26a69a"/><rect x="946" y="747.2" width="1" height="4.3" fill="#26a69a"/><rect x="955" y="747.2" width="1" height="4.3" fill="#b2dfdb"/><rect x="964" y="748.4" width="1" height="3.1" fill="#b2dfdb"/><rect x="973" y="747.2" width="1" height="4.3" fill="#26a69a"/><rect x="981" y="746.4" width="1" height="5.1" fill="#26a69a"/><rect x="990" y="741.2" width="1" height="10.3" fill="#26a69a"/><rect x="999" y="740.2" width="1" height="11.3" fill="#26a69a"/><rect x="1008" y="737.1" width="1" height="14.4" fill="#26a69a"/><rect x="1017" y="736.1" width="1" height="15.4" fill="#26a69a"/><rect x="1026" y="735.8" width="1" height="15.7" fill="#26a69a"/><rect x="1034" y="738.3" width="1" height="13.2" fill="#b2dfdb"/><rect x="1043" y="742.3" width="1" height="9.2" fill="#b2dfdb"/><rect x="1052" y="745.3" width="1" height="6.2" fill="#b2dfdb"/><rect x="1061" y="748.4" width="1" height="3.1" fill="#b2dfdb"/><rect x="1070" y="748.4" width="1" height="3.1" fill="#26a69a"/><rect x="1079" y="744.3" width="1" height="7.2" fill="#26a69a"/><rect x="1087" y="742.3" width="1" height="9.2" fill="#26a69a"/><rect x="1096" y="739.4" width="1" height="12.1" fill="#26a69a"/><rect x="1105" y="738.3" width="1" height="13.2" fill="#26a69a"/><rect x="1114" y="737.1" width="1" height="14.4" fill="#26a69a"/></g>
<polyline points="10.6,728.3 20.6,727.8 46.4,728.6 55.6,729.6 64.4,731.3 73.2,733.2 90.2,735.7 99.2,738.1 108.2,740.6 117.2,743.4 126.2,746 143.4,749.6 152.4,752.4 161.4,756.6 170.3,760.5 178.5,764.3 187.3,767.6 196.3,770 205.3,772 214.3,773 223.3,773.6 231.5,773.6 240.5,773.3 249.5,771.6 258.5,770.3 267.4,768.7 276.4,767.6 284.6,767.2 294.1,767.9 311.7,769.7 329.4,772.5 346.4,774.9 355.5,776.1 364.5,775.4 373.5,773.3 381.5,770 390.5,765.9 399.5,761.8 408.5,757.7 417.5,753.7 426.5,749.6 434.5,746 443.5,742.2 452.5,739.4 461.5,737 470.5,734 478.5,731.6 487.5,729.1 496.4,725.9 505.4,724.2 514.4,724.2 523.4,724.7 531.4,725.5 540.4,727.2 549.4,729.1 558.4,731.3 567.4,733.6 576.4,735.7 585.4,737 594,737.8 602.9,739.8 611.9,743 620.7,747.1 629.3,750.9 638.2,755 647.2,758.2 655.8,760.5 664.7,762.3 673.5,764 682.5,765.4 691.1,766.4 700,767.6 708.8,768.4 717.6,768.9 726.4,769.2 735.3,768.4 744.1,767.6 752.9,766.4 761.8,765.6 770.6,764.8 779.4,764 788.2,763.1 797.1,762.3 805.9,761.8 814.7,761.3 823.6,761 832.4,760.7 841.2,760.7 850,761 858.9,761.2 867.5,760.7 885.3,759.9 903,758.6 929.5,756.9 947.1,755.3 964.6,753.7 973.5,752.5 981.5,751.5 990.5,749.2 999.4,746.3 1008.4,742.2 1017.4,738.9 1026.4,735.2 1034.4,732.4 1043.4,730.4 1052.4,728.8 1061.4,728.3 1070.4,727.2 1079.4,725.5 1087.4,723.7 1096.4,720.6 1105.4,717.4 1113.7,714.4" fill="none" stroke="#ff6d00" stroke-width="1.25" stroke-linejoin="round"/>
<polyline points="10,725.4 11.5,725.5 20.5,726.2 28.5,729.1 37.5,729.1 46.5,730.4 55.5,734.4 64.5,738.1 73.5,740.3 81.5,740.3 90.5,740.6 99.5,747.6 108.5,751.7 117.5,754 126.5,755.6 134.5,756.3 143.5,756.9 152.5,764.3 161.5,769.7 170.5,774.1 178.5,778.2 187.5,779.8 196.5,780.5 205.5,779.5 214.5,777.7 223.5,776.2 231.5,773.8 240.5,771.2 249.5,765.9 258.5,764.8 267.5,761.5 276.5,761.8 284.5,766.7 293.5,768.4 302.5,771.6 311.5,774.6 320.5,775.7 328.5,777.4 337.5,779.3 346.5,780.1 355.5,781.5 364.5,774.1 373.5,763.5 381.5,755 390.5,749.6 399.5,746.3 408.5,743.4 417.5,735.7 426.5,732.4 434.5,730.8 443.5,728 452.5,728.3 461.5,727.2 470.5,721 478.5,719.7 487.5,718.5 496.5,715.6 505.5,717.4 514.5,723.7 523.5,727.2 531.5,729.5 540.5,732.9 549.5,737.3 558.5,738.5 567.5,744.3 576.5,743.4 584.5,739.4 593.5,740.9 602.5,747.1 611.5,754.5 620.5,761.5 628.5,765.4 637.5,767.6 646.5,770 655.5,771.6 664.5,771.3 673.5,770.8 681.5,771.3 690.5,772.1 699.5,772 708.5,771.6 717.5,770.8 726.5,769.5 734.5,766.7 743.5,764.3 752.5,763 761.5,761.3 770.5,761 778.5,761.3 787.5,760.5 796.5,759.7 805.5,759.7 814.5,759.9 823.5,759.4 831.5,759.7 840.5,760.5 849.5,761.3 858.5,761.3 867.5,759.4 876.5,758.6 884.5,758.1 893.5,757.4 902.5,756.6 911.5,755.8 920.5,755.5 929.5,755 937.5,752.8 946.5,751.7 955.5,751.2 964.5,750.4 973.5,747.9 981.5,746.3 990.5,738.9 999.5,736 1008.5,728.8 1017.5,724.7 1026.5,720.6 1034.5,719.7 1043.5,721.8 1052.5,723.7 1061.5,726.2 1070.5,724.2 1079.5,718.5 1087.5,715.2 1096.5,709 1105.5,704.3 1114.5,700.5" fill="none" stroke="#2962ff" stroke-width="1.25" stroke-linejoin="round"/>
</g>
<g shape-rendering="crispEdges" fill="#4a4a4a"><rect x="1773" y="27" width="1" height="788"/><rect x="10" y="787" width="1816" height="1"/></g>
<text x="10.3" y="19" font-size="12" fill="#161616" text-anchor="start" font-weight="normal" font-family="Liberation Sans, sans-serif" textLength="368" lengthAdjust="spacingAndGlyphs" stroke="#161616" stroke-width="0.25">aayushjindal created with TradingView.com, Jan 12, 2026 04:10 UTC</text>
<text x="18" y="46" font-size="12" fill="#4c4c4c" text-anchor="start" font-weight="normal" font-family="Liberation Sans, sans-serif" textLength="179" lengthAdjust="spacingAndGlyphs" stroke="#4c4c4c" stroke-width="0.2">Solana / U.S. Dollar · 1h · Kraken</text>
<text x="204.9" y="46" font-size="12" fill="#4c4c4c" text-anchor="start" font-weight="normal" font-family="Liberation Sans, sans-serif" textLength="8.1" lengthAdjust="spacingAndGlyphs" stroke="#4c4c4c" stroke-width="0.2">O</text>
<text x="213.6" y="46" font-size="12" fill="#2a5a40" text-anchor="start" font-weight="normal" font-family="Liberation Sans, sans-serif" textLength="34.7" lengthAdjust="spacingAndGlyphs" stroke="#2a5a40" stroke-width="0.2">142.34</text>
<text x="255.9" y="46" font-size="12" fill="#4c4c4c" text-anchor="start" font-weight="normal" font-family="Liberation Sans, sans-serif" textLength="7.8" lengthAdjust="spacingAndGlyphs" stroke="#4c4c4c" stroke-width="0.2">H</text>
<text x="265.2" y="46" font-size="12" fill="#2a5a40" text-anchor="start" font-weight="normal" font-family="Liberation Sans, sans-serif" textLength="34.3" lengthAdjust="spacingAndGlyphs" stroke="#2a5a40" stroke-width="0.2">142.80</text>
<text x="307.4" y="46" font-size="12" fill="#4c4c4c" text-anchor="start" font-weight="normal" font-family="Liberation Sans, sans-serif" textLength="6.1" lengthAdjust="spacingAndGlyphs" stroke="#4c4c4c" stroke-width="0.2">L</text>
<text x="313.8" y="46" font-size="12" fill="#2a5a40" text-anchor="start" font-weight="normal" font-family="Liberation Sans, sans-serif" textLength="34.6" lengthAdjust="spacingAndGlyphs" stroke="#2a5a40" stroke-width="0.2">142.28</text>
<text x="356" y="46" font-size="12" fill="#4c4c4c" text-anchor="start" font-weight="normal" font-family="Liberation Sans, sans-serif" textLength="7.4" lengthAdjust="spacingAndGlyphs" stroke="#4c4c4c" stroke-width="0.2">C</text>
<text x="364.8" y="46" font-size="12" fill="#2a5a40" text-anchor="start" font-weight="normal" font-family="Liberation Sans, sans-serif" textLength="34.2" lengthAdjust="spacingAndGlyphs" stroke="#2a5a40" stroke-width="0.2">142.57</text>
<text x="406.7" y="46" font-size="12" fill="#2a5a40" text-anchor="start" font-weight="normal" font-family="Liberation Sans, sans-serif" textLength="78.1" lengthAdjust="spacingAndGlyphs" stroke="#2a5a40" stroke-width="0.2">+0.27 (+0.19%)</text>
<defs><clipPath id="tax"><rect x="10" y="788" width="1763" height="27"/></clipPath><clipPath id="pax"><rect x="1774" y="27" width="52" height="550"/></clipPath></defs>
<g clip-path="url(#tax)">
<text x="19.5" y="804.2" font-size="10.5" fill="#454545" text-anchor="middle" font-weight="normal" font-family="Liberation Sans, sans-serif" stroke="#454545" stroke-width="0.25">7</text>
<text x="72.5" y="804.2" font-size="10.5" fill="#454545" text-anchor="middle" font-weight="normal" font-family="Liberation Sans, sans-serif" stroke="#454545" stroke-width="0.25">06:00</text>
<text x="125.4" y="804.2" font-size="10.5" fill="#454545" text-anchor="middle" font-weight="normal" font-family="Liberation Sans, sans-serif" stroke="#454545" stroke-width="0.25">12:00</text>
<text x="178.4" y="804.2" font-size="10.5" fill="#454545" text-anchor="middle" font-weight="normal" font-family="Liberation Sans, sans-serif" stroke="#454545" stroke-width="0.25">18:00</text>
<text x="231.3" y="804.2" font-size="10.5" fill="#454545" text-anchor="middle" font-weight="normal" font-family="Liberation Sans, sans-serif" stroke="#454545" stroke-width="0.25">8</text>
<text x="284.3" y="804.2" font-size="10.5" fill="#454545" text-anchor="middle" font-weight="normal" font-family="Liberation Sans, sans-serif" stroke="#454545" stroke-width="0.25">06:00</text>
<text x="337.2" y="804.2" font-size="10.5" fill="#454545" text-anchor="middle" font-weight="normal" font-family="Liberation Sans, sans-serif" stroke="#454545" stroke-width="0.25">12:00</text>
<text x="390.1" y="804.2" font-size="10.5" fill="#454545" text-anchor="middle" font-weight="normal" font-family="Liberation Sans, sans-serif" stroke="#454545" stroke-width="0.25">18:00</text>
<text x="443.1" y="804.2" font-size="10.5" fill="#454545" text-anchor="middle" font-weight="normal" font-family="Liberation Sans, sans-serif" stroke="#454545" stroke-width="0.25">9</text>
<text x="496.0" y="804.2" font-size="10.5" fill="#454545" text-anchor="middle" font-weight="normal" font-family="Liberation Sans, sans-serif" stroke="#454545" stroke-width="0.25">06:00</text>
<text x="549.0" y="804.2" font-size="10.5" fill="#454545" text-anchor="middle" font-weight="normal" font-family="Liberation Sans, sans-serif" stroke="#454545" stroke-width="0.25">12:00</text>
<text x="601.9" y="804.2" font-size="10.5" fill="#454545" text-anchor="middle" font-weight="normal" font-family="Liberation Sans, sans-serif" stroke="#454545" stroke-width="0.25">18:00</text>
<text x="654.9" y="804.2" font-size="10.5" fill="#454545" text-anchor="middle" font-weight="normal" font-family="Liberation Sans, sans-serif" stroke="#454545" stroke-width="0.25">10</text>
<text x="707.8" y="804.2" font-size="10.5" fill="#454545" text-anchor="middle" font-weight="normal" font-family="Liberation Sans, sans-serif" stroke="#454545" stroke-width="0.25">06:00</text>
<text x="760.8" y="804.2" font-size="10.5" fill="#454545" text-anchor="middle" font-weight="normal" font-family="Liberation Sans, sans-serif" stroke="#454545" stroke-width="0.25">12:00</text>
<text x="813.7" y="804.2" font-size="10.5" fill="#454545" text-anchor="middle" font-weight="normal" font-family="Liberation Sans, sans-serif" stroke="#454545" stroke-width="0.25">18:00</text>
<text x="866.6" y="804.2" font-size="10.5" fill="#454545" text-anchor="middle" font-weight="normal" font-family="Liberation Sans, sans-serif" stroke="#454545" stroke-width="0.25">11</text>
<text x="919.6" y="804.2" font-size="10.5" fill="#454545" text-anchor="middle" font-weight="normal" font-family="Liberation Sans, sans-serif" stroke="#454545" stroke-width="0.25">06:00</text>
<text x="972.5" y="804.2" font-size="10.5" fill="#454545" text-anchor="middle" font-weight="normal" font-family="Liberation Sans, sans-serif" stroke="#454545" stroke-width="0.25">12:00</text>
<text x="1025.5" y="804.2" font-size="10.5" fill="#454545" text-anchor="middle" font-weight="normal" font-family="Liberation Sans, sans-serif" stroke="#454545" stroke-width="0.25">18:00</text>
<text x="1078.4" y="804.2" font-size="10.5" fill="#454545" text-anchor="middle" font-weight="bold" font-family="Liberation Sans, sans-serif" stroke="#454545" stroke-width="0.25">12</text>
<text x="1131.4" y="804.2" font-size="10.5" fill="#454545" text-anchor="middle" font-weight="normal" font-family="Liberation Sans, sans-serif" stroke="#454545" stroke-width="0.25">06:00</text>
<text x="1184.3" y="804.2" font-size="10.5" fill="#454545" text-anchor="middle" font-weight="normal" font-family="Liberation Sans, sans-serif" stroke="#454545" stroke-width="0.25">12:00</text>
<text x="1237.2" y="804.2" font-size="10.5" fill="#454545" text-anchor="middle" font-weight="normal" font-family="Liberation Sans, sans-serif" stroke="#454545" stroke-width="0.25">18:00</text>
<text x="1290.2" y="804.2" font-size="10.5" fill="#454545" text-anchor="middle" font-weight="normal" font-family="Liberation Sans, sans-serif" stroke="#454545" stroke-width="0.25">13</text>
<text x="1343.1" y="804.2" font-size="10.5" fill="#454545" text-anchor="middle" font-weight="normal" font-family="Liberation Sans, sans-serif" stroke="#454545" stroke-width="0.25">06:00</text>
<text x="1396.1" y="804.2" font-size="10.5" fill="#454545" text-anchor="middle" font-weight="normal" font-family="Liberation Sans, sans-serif" stroke="#454545" stroke-width="0.25">12:00</text>
<text x="1449.0" y="804.2" font-size="10.5" fill="#454545" text-anchor="middle" font-weight="normal" font-family="Liberation Sans, sans-serif" stroke="#454545" stroke-width="0.25">18:00</text>
<text x="1502.0" y="804.2" font-size="10.5" fill="#454545" text-anchor="middle" font-weight="normal" font-family="Liberation Sans, sans-serif" stroke="#454545" stroke-width="0.25">14</text>
<text x="1554.9" y="804.2" font-size="10.5" fill="#454545" text-anchor="middle" font-weight="normal" font-family="Liberation Sans, sans-serif" stroke="#454545" stroke-width="0.25">06:00</text>
<text x="1607.9" y="804.2" font-size="10.5" fill="#454545" text-anchor="middle" font-weight="normal" font-family="Liberation Sans, sans-serif" stroke="#454545" stroke-width="0.25">12:00</text>
<text x="1660.8" y="804.2" font-size="10.5" fill="#454545" text-anchor="middle" font-weight="normal" font-family="Liberation Sans, sans-serif" stroke="#454545" stroke-width="0.25">18:00</text>
<text x="1713.7" y="804.2" font-size="10.5" fill="#454545" text-anchor="middle" font-weight="normal" font-family="Liberation Sans, sans-serif" stroke="#454545" stroke-width="0.25">15</text>
<text x="1766.7" y="804.2" font-size="10.5" fill="#454545" text-anchor="middle" font-weight="normal" font-family="Liberation Sans, sans-serif" stroke="#454545" stroke-width="0.25">06:00</text>
</g>
<g clip-path="url(#pax)">
<text x="1782.5" y="107.3" font-size="10.5" fill="#454545" text-anchor="start" font-weight="normal" font-family="Liberation Sans, sans-serif" stroke="#454545" stroke-width="0.25">143.00</text>
<text x="1782.5" y="192.3" font-size="10.5" fill="#454545" text-anchor="start" font-weight="normal" font-family="Liberation Sans, sans-serif" stroke="#454545" stroke-width="0.25">141.00</text>
<text x="1782.5" y="235.3" font-size="10.5" fill="#454545" text-anchor="start" font-weight="normal" font-family="Liberation Sans, sans-serif" stroke="#454545" stroke-width="0.25">140.00</text>
<text x="1782.5" y="278.3" font-size="10.5" fill="#454545" text-anchor="start" font-weight="normal" font-family="Liberation Sans, sans-serif" stroke="#454545" stroke-width="0.25">139.00</text>
<text x="1782.5" y="321.3" font-size="10.5" fill="#454545" text-anchor="start" font-weight="normal" font-family="Liberation Sans, sans-serif" stroke="#454545" stroke-width="0.25">138.00</text>
<text x="1782.5" y="364.3" font-size="10.5" fill="#454545" text-anchor="start" font-weight="normal" font-family="Liberation Sans, sans-serif" stroke="#454545" stroke-width="0.25">137.00</text>
<text x="1782.5" y="407.3" font-size="10.5" fill="#454545" text-anchor="start" font-weight="normal" font-family="Liberation Sans, sans-serif" stroke="#454545" stroke-width="0.25">136.00</text>
<text x="1782.5" y="450.3" font-size="10.5" fill="#454545" text-anchor="start" font-weight="normal" font-family="Liberation Sans, sans-serif" stroke="#454545" stroke-width="0.25">135.00</text>
<text x="1782.5" y="492.3" font-size="10.5" fill="#454545" text-anchor="start" font-weight="normal" font-family="Liberation Sans, sans-serif" stroke="#454545" stroke-width="0.25">134.00</text>
<text x="1782.5" y="578.3" font-size="10.5" fill="#454545" text-anchor="start" font-weight="normal" font-family="Liberation Sans, sans-serif" stroke="#454545" stroke-width="0.25">132.00</text>
</g>
<text x="1782.5" y="624.3" font-size="10.5" fill="#454545" text-anchor="start" font-weight="normal" font-family="Liberation Sans, sans-serif" stroke="#454545" stroke-width="0.25">60.00</text>
<text x="1782.5" y="670.3" font-size="10.5" fill="#454545" text-anchor="start" font-weight="normal" font-family="Liberation Sans, sans-serif" stroke="#454545" stroke-width="0.25">40.00</text>
<text x="1782.5" y="718.3" font-size="10.5" fill="#454545" text-anchor="start" font-weight="normal" font-family="Liberation Sans, sans-serif" stroke="#454545" stroke-width="0.25">1.00</text>
<text x="1782.5" y="755.3" font-size="10.5" fill="#454545" text-anchor="start" font-weight="normal" font-family="Liberation Sans, sans-serif" stroke="#454545" stroke-width="0.25">0.00</text>
<path d="M1774 61 H1819 V62 q0 2 -2 2 H1774 Z" fill="#ff0000"/>
<path d="M1774 141 H1817 q2 0 2 2 V156 q0 2 -2 2 H1774 Z" fill="#4caf50"/>
<text x="1782.3" y="153.9" font-size="10.5" fill="#fff" text-anchor="start" font-weight="bold" font-family="Liberation Sans, sans-serif">141.94</text>
<path d="M1774 186 H1817 q2 0 2 2 V201 q0 2 -2 2 H1774 Z" fill="#4caf50"/>
<text x="1782.3" y="198.9" font-size="10.5" fill="#fff" text-anchor="start" font-weight="bold" font-family="Liberation Sans, sans-serif">140.87</text>
<path d="M1774 245 H1817 q2 0 2 2 V260 q0 2 -2 2 H1774 Z" fill="#4caf50"/>
<text x="1782.3" y="257.9" font-size="10.5" fill="#fff" text-anchor="start" font-weight="bold" font-family="Liberation Sans, sans-serif">139.49</text>
<path d="M1774 294 H1817 q2 0 2 2 V309 q0 2 -2 2 H1774 Z" fill="#4caf50"/>
<text x="1782.3" y="306.9" font-size="10.5" fill="#fff" text-anchor="start" font-weight="bold" font-family="Liberation Sans, sans-serif">138.35</text>
<path d="M1774 523 H1817 q2 0 2 2 V538 q0 2 -2 2 H1774 Z" fill="#4caf50"/>
<text x="1782.3" y="535.9" font-size="10.5" fill="#fff" text-anchor="start" font-weight="bold" font-family="Liberation Sans, sans-serif">133.02</text>
<path d="M1774 113 H1817 q2 0 2 2 V141 q0 2 -2 2 H1774 Z" fill="#0000ff"/>
<text x="1782.3" y="125.8" font-size="10.5" fill="#fff" text-anchor="start" font-weight="bold" font-family="Liberation Sans, sans-serif">142.57</text>
<text x="1782" y="138.8" font-size="10.5" fill="#cfcfff" text-anchor="start" font-weight="normal" font-family="Liberation Sans, sans-serif">49:08</text>
<rect x="1777.5" y="31.5" width="43" height="25" rx="4" fill="#fff" stroke="#e4e4ea"/>
<text x="1786.4" y="48.6" font-size="11.5" fill="#131722" text-anchor="start" font-weight="normal" font-family="Liberation Sans, sans-serif" textLength="20.2" lengthAdjust="spacingAndGlyphs">USD</text>
<path d="M1107.6 570.5 A9.6 9.6 0 1 0 1105.7 561.9" fill="none" stroke="#9c1fb0" stroke-width="1.5"/>
<path d="M1117.9 559 L1110.3 564.6 L1114.6 564.9 L1111.2 569.8 L1118.7 564.2 L1115 563.9 Z" fill="#9c1fb0" stroke="#9c1fb0" stroke-width="0.5" stroke-linejoin="round"/>
<path d="M1104 563 Q1104.9 567 1108.9 567.9 Q1104.9 568.8 1104 572.8 Q1103.1 568.8 1099.1 567.9 Q1103.1 567 1104 563Z" fill="#7442ff"/>
<g fill="#131313"><path d="M12 837 H23.8 V851.7 H18 V843 H12 Z"/><circle cx="29.2" cy="840" r="3"/><path d="M34.3 837 H41.7 L36 851.7 H29.2 Z"/></g>
<text x="49" y="851.7" font-size="20.3" fill="#131313" text-anchor="start" font-weight="bold" font-family="Liberation Sans, sans-serif" textLength="120.8" lengthAdjust="spacingAndGlyphs">TradingView</text>
</svg></body></html>
